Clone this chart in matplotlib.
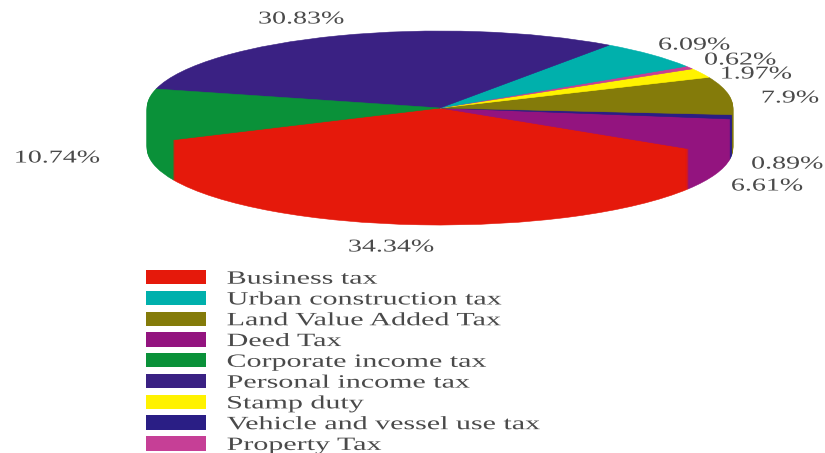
import matplotlib
matplotlib.use("Agg")
import matplotlib.pyplot as plt
from matplotlib.patches import Patch
from matplotlib.patheffects import AbstractPathEffect
from matplotlib.transforms import Affine2D

categories = ["Business tax", "Urban construction tax", "Land Value Added Tax", "Deed Tax",
              "Corporate income tax", "Personal income tax", "Stamp duty",
              "Vehicle and vessel use tax", "Property Tax"]
shares = [34.34, 6.09, 7.9, 6.61, 10.74, 30.83, 1.97, 0.89, 0.62]
colors = ["#E5190B", "#00B0AC", "#847B0A", "#93147F", "#0A9139", "#3A2183", "#FFF200", "#2A1E85", "#C63F96"]
share_labels = ["34.34%", "6.09%", "7.9%", "6.61%", "10.74%", "30.83%", "1.97%", "0.89%", "0.62%"]

# counter-clockwise order round the pie, as indexes into the lists above
pie_order = [0, 3, 7, 2, 6, 8, 1, 5, 4]
# label centres in pixels from the top-left corner of the picture
label_px = [(391, 247), (694, 45), (790, 98), (767, 186), (57, 158), (301, 19), (756, 74), (787, 164), (740, 60)]

W, H = 825, 453
CX, CY, RX, RY, DEPTH = 440, 108, 293, 77, 40
START = 204.4
SERIF = "Liberation Serif"
TEXT_COLOR = "#4a4a4a"


class StretchX(AbstractPathEffect):
    """Widen a text sideways, as the reference picture was widened."""

    def __init__(self, factor, anchor):
        super().__init__()
        self.factor = factor
        self.anchor = anchor

    def draw_path(self, renderer, gc, tpath, affine, rgbFace=None):
        ext = tpath.get_extents(affine)
        x0 = ext.x0 if self.anchor == "left" else (ext.x0 + ext.x1) / 2
        stretched = affine + Affine2D().translate(-x0, 0).scale(self.factor, 1).translate(x0, 0)
        renderer.draw_path(gc, tpath, stretched, rgbFace)


fig = plt.figure(figsize=(W / 100, H / 100), dpi=100)
ax = fig.add_axes([0, 0, 1, 1])

vals = [shares[i] for i in pie_order]
cols = [colors[i] for i in pie_order]
for d in range(DEPTH, -1, -1):
    wedges, _ = ax.pie(vals, colors=cols, startangle=START, counterclock=True, radius=1,
                       center=(0, -d / RY))
    for w in wedges:
        w.set_edgecolor(w.get_facecolor())
        w.set_linewidth(0.4)

ax.set_aspect("auto")
ax.set_xlim(-CX / RX, (W - CX) / RX)
ax.set_ylim(-(H - CY) / RY, CY / RY)
ax.axis("off")

px = Affine2D().scale(1 / W, -1 / H).translate(0, 1) + fig.transFigure
for text, (x, y) in zip(share_labels, label_px):
    t = ax.text(x, y, text, transform=px, ha="center", va="center",
                family=SERIF, fontsize=13, color=TEXT_COLOR)
    t.set_path_effects([StretchX(1.55, "center")])

fs = 13.5
em = fs * 100 / 72
handles = [Patch(facecolor=c, edgecolor="none") for c in colors]
leg = ax.legend(handles, categories, loc="upper left", bbox_to_anchor=(146, 270), bbox_transform=px,
                frameon=False, prop=dict(family=SERIF, size=fs), labelcolor=TEXT_COLOR,
                handlelength=60 / em, handleheight=15 / em,
                handletextpad=21 / em, labelspacing=0.165, borderpad=0, borderaxespad=0)
for t in leg.get_texts():
    t.set_path_effects([StretchX(1.6, "left")])

fig.savefig("out.png", dpi=100, facecolor="white")
